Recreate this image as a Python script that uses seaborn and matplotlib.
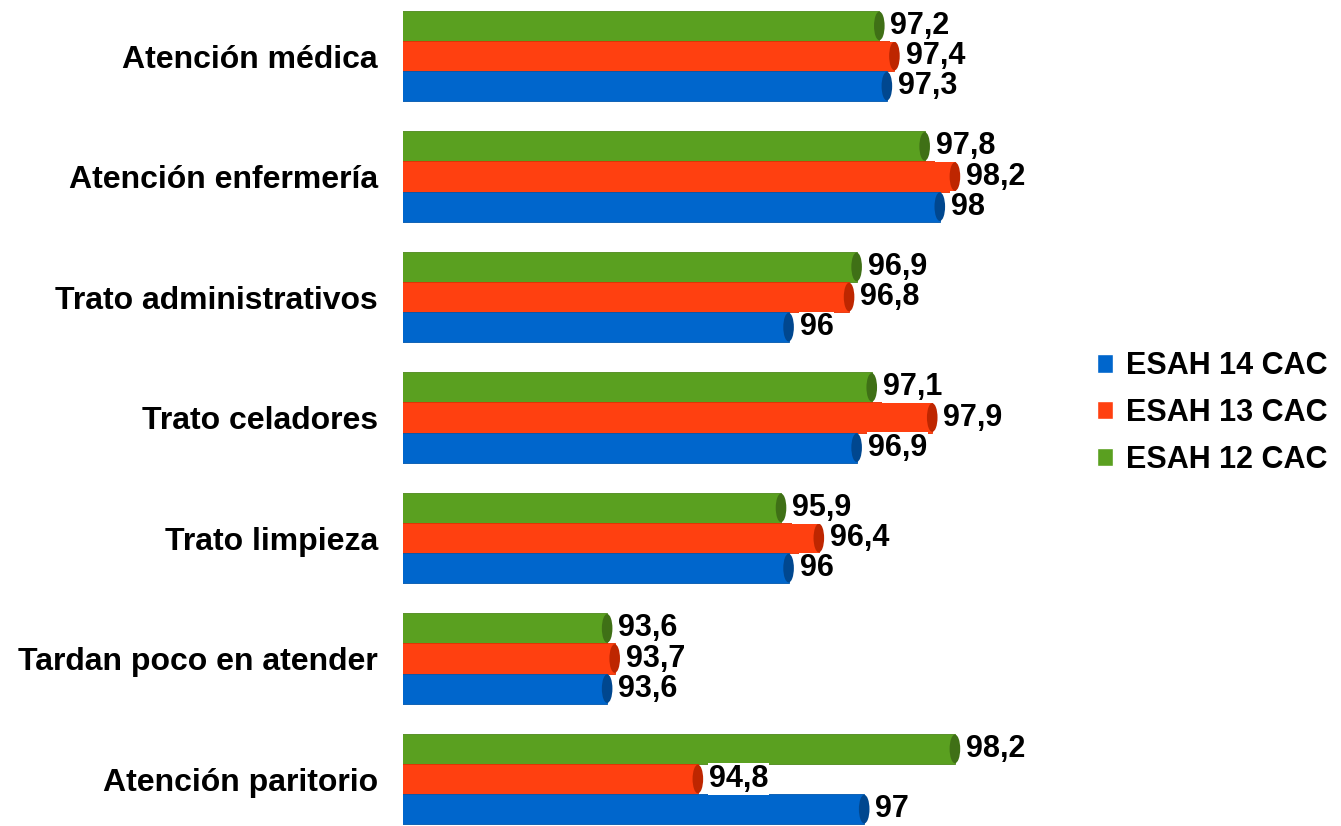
import matplotlib
matplotlib.use("Agg")
import matplotlib.pyplot as plt
from matplotlib.patches import Ellipse, Patch
import seaborn as sns
import pandas as pd
import colorsys
import matplotlib.colors as mcolors

# Data
categories = ["Atención médica", "Atención enfermería", "Trato administrativos",
              "Trato celadores", "Trato limpieza", "Tardan poco en atender",
              "Atención paritorio"]
esah12 = [97.2, 97.8, 96.9, 97.1, 95.9, 93.6, 98.2]
esah13 = [97.4, 98.2, 96.8, 97.9, 96.4, 93.7, 94.8]
esah14 = [97.3, 98.0, 96.0, 96.9, 96.0, 93.6, 97.0]
series_names = ["ESAH 12 CAC", "ESAH 13 CAC", "ESAH 14 CAC"]
colors = {"ESAH 12 CAC": "#5aa020", "ESAH 13 CAC": "#ff4010", "ESAH 14 CAC": "#0066cc"}

rows = []
for name, vals in zip(series_names, [esah12, esah13, esah14]):
    for cat, v in zip(categories, vals):
        rows.append({"Categoria": cat, "Serie": name, "Valor": v})
df = pd.DataFrame(rows)

sns.set_theme(style="white")
plt.rcParams['font.family'] = ['Liberation Sans', 'DejaVu Sans']

fig = plt.figure(figsize=(13.41, 8.26), dpi=100)
ax = fig.add_axes([403 / 1341, 0.0, (1091 - 403) / 1341, 1.0])

sns.barplot(data=df, y="Categoria", x="Valor", hue="Serie", order=categories,
            hue_order=series_names, palette=colors, orient="h", width=0.75,
            ax=ax, legend=False, saturation=1, edgecolor="none")

ax.set_xlim(90.9, 100)
ax.set_ylim(6.39, -0.465)


def darker(c, f=0.7):
    r, g, b = mcolors.to_rgb(c)
    h, l, s = colorsys.rgb_to_hls(r, g, b)
    return colorsys.hls_to_rgb(h, l * f, s)


def fmt(v):
    if abs(v - round(v)) < 1e-9:
        return f"{int(round(v))}"
    return f"{v:.1f}".replace(".", ",")


cap_w = 0.14
for container, name in zip(ax.containers, series_names):
    for bar in container:
        x0 = bar.get_x()
        w = bar.get_width()
        y = bar.get_y()
        h = bar.get_height()
        # darker end cap for the cylinder look
        ax.add_patch(Ellipse((x0 + w, y + h / 2), cap_w, h * 0.95,
                             facecolor=darker(colors[name]), edgecolor="none", zorder=3))
        bar.set_edgecolor(darker(colors[name], 0.85))
        bar.set_linewidth(0.6)
    labels = ax.bar_label(container, labels=[fmt(b.get_width()) for b in container],
                          padding=8, fontsize=22, fontweight="bold", color="black",
                          zorder=5)
    for t in labels:
        t.set_bbox(dict(facecolor="white", edgecolor="none", pad=0.5))

ax.set_xlabel("")
ax.set_ylabel("")
ax.set_xticks([])
ax.tick_params(axis="y", length=0, pad=18)
for lbl in ax.get_yticklabels():
    lbl.set_fontsize(23)
    lbl.set_fontweight("bold")
    lbl.set_color("black")
for s in ax.spines.values():
    s.set_visible(False)

handles = [Patch(facecolor=colors[n], label=n) for n in reversed(series_names)]
leg = fig.legend(handles=handles, loc="center left", bbox_to_anchor=(1069 / 1341, 0.5),
                 frameon=False, handlelength=0.55, handleheight=0.55, handletextpad=0.4,
                 labelspacing=0.55, prop={"size": 22, "weight": "bold"})
for t in leg.get_texts():
    t.set_color("black")

fig.savefig("out.png", dpi=100)
